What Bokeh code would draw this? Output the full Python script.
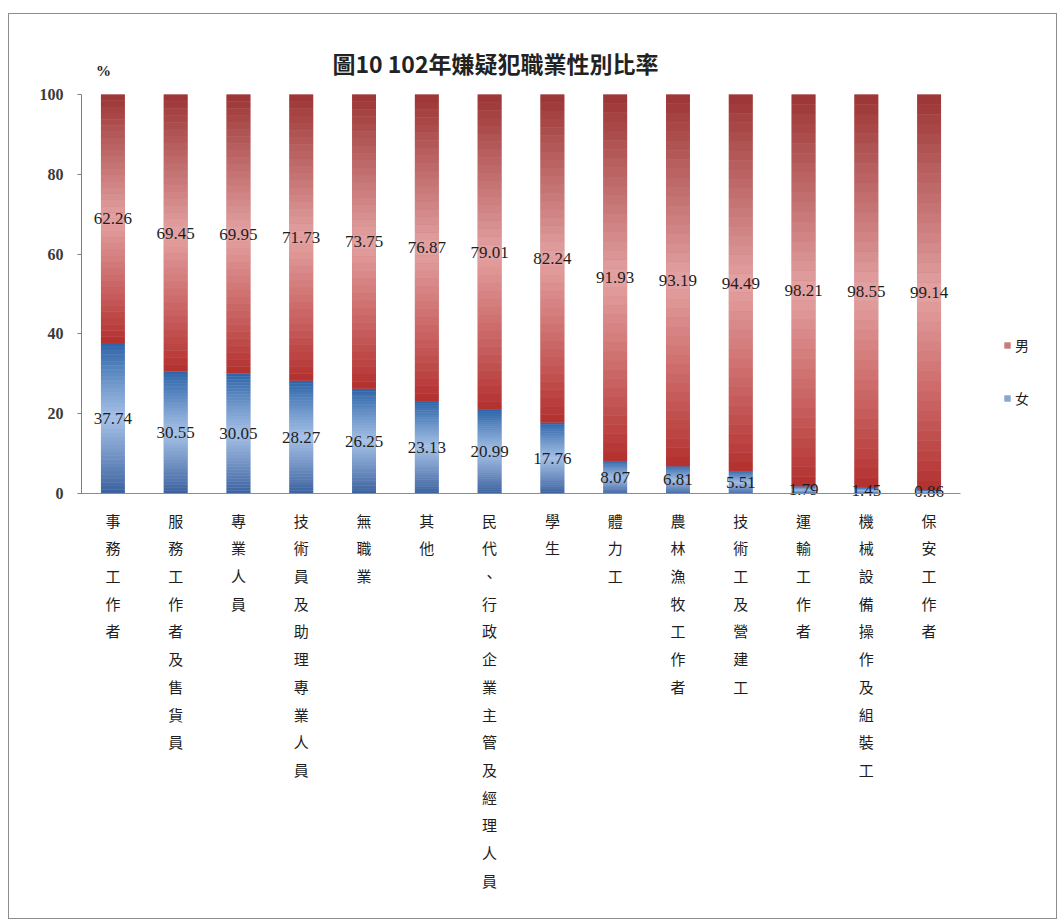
import numpy as np
from bokeh.plotting import figure
from bokeh.models import ColumnDataSource, Label, Legend, LegendItem, FactorRange, Range1d, FixedTicker
from bokeh.core.properties import value
from bokeh.embed import file_html
from bokeh.resources import INLINE

# ---- data ----
categories = ["事務工作者", "服務工作者及售貨員", "專業人員", "技術員及助理專業人員", "無職業",
              "其他", "民代、行政企業主管及經理人員", "學生", "體力工", "農林漁牧工作者",
              "技術工及營建工", "運輸工作者", "機械設備操作及組裝工", "保安工作者"]
female = [37.74, 30.55, 30.05, 28.27, 26.25, 23.13, 20.99, 17.76, 8.07, 6.81, 5.51, 1.79, 1.45, 0.86]
male = [62.26, 69.45, 69.95, 71.73, 73.75, 76.87, 79.01, 82.24, 91.93, 93.19, 94.49, 98.21, 98.55, 99.14]
y_ticks = [0, 20, 40, 60, 80, 100]
title_text = "圖10 102年嫌疑犯職業性別比率"
unit_text = "%"
male_name = "男"
female_name = "女"

# ---- styles / geometry ----
CJK = "Noto Sans CJK TC"
NUM = "Liberation Serif"
BAR_W = 0.38
N_SLICES = 40
RED = ("#b3302e", "#e4a3a3", "#9c3434")   # bottom, middle, top
BLUE = ("#3b629e", "#a8c3e8", "#2c64a8")
PX_PER_UNIT = 3.99                # vertical pixels per percentage point
Y_HI = 100 + 74 / PX_PER_UNIT     # room above 100 for the title
Y_LO = -(422 / PX_PER_UNIT)       # room below 0 for the category labels
SIDE_PAD = 1.1467                 # factor-units of padding on each side


def hex2rgb(h):
    h = h.lstrip("#")
    return [int(h[i:i + 2], 16) for i in (0, 2, 4)]


def lerp(c1, c2, t):
    a, b = hex2rgb(c1), hex2rgb(c2)
    return "#%02x%02x%02x" % tuple(int(round(a[i] + (b[i] - a[i]) * t)) for i in range(3))


def grad(stops, t, tmid=0.5):
    bot, mid, top = stops
    if t < tmid:
        return lerp(bot, mid, t / tmid)
    return lerp(mid, top, (t - tmid) / (1 - tmid))


p = figure(x_range=FactorRange(factors=categories, range_padding=SIDE_PAD, range_padding_units="absolute"),
           y_range=Range1d(Y_LO, Y_HI),
           width=1049, height=906, output_backend="svg", toolbar_location=None,
           min_border_left=0, min_border_right=26, min_border_top=6, min_border_bottom=5)
p.styles = {"border": "1px solid #8c8c8c", "margin-left": "8px", "margin-top": "13px"}
p.outline_line_color = None
p.xgrid.visible = False
p.ygrid.visible = False
p.background_fill_color = "white"

# base stacked bars (solid) -- used for the legend
src = ColumnDataSource(dict(cat=categories, female=female, male=male))
rends = p.vbar_stack(["female", "male"], x="cat", width=BAR_W, source=src,
                     color=["#8aa5d3", "#c87b7b"], line_color=None)

# gradient overlay built from the same values
xs, bots, tops, cols = [], [], [], []
for c, f, m in zip(categories, female, male):
    for (b0, length, stops) in ((0.0, f, BLUE), (f, m, RED)):
        for k in range(N_SLICES):
            t = (k + 0.5) / N_SLICES
            xs.append(c)
            bots.append(b0 + length * k / N_SLICES)
            tops.append(min(b0 + length * (k + 1) / N_SLICES + 0.02, 100))
            cols.append(grad(stops, t))
gsrc = ColumnDataSource(dict(x=xs, bottom=bots, top=tops, color=cols))
p.vbar(x="x", bottom="bottom", top="top", width=BAR_W, fill_color="color", line_color=None, source=gsrc)

# value labels
lab = ColumnDataSource(dict(
    x=categories + categories,
    y=[f / 2 for f in female] + [f + m / 2 for f, m in zip(female, male)],
    t=["%.2f" % v for v in female] + ["%.2f" % v for v in male]))
p.text(x="x", y="y", text="t", source=lab, text_font=value(NUM), text_font_size=value("17px"),
       text_color="#1e1e1e", text_align="center", text_baseline="middle")

# vertical (stacked-character) category labels below the axis
cat_src = ColumnDataSource(dict(x=categories, y=[0] * len(categories),
                                t=["\n".join(c) for c in categories]))
p.text(x="x", y="y", text="t", source=cat_src, y_offset=16, text_font=value(CJK),
       text_font_size=value("15px"), text_color="#1e1e1e", text_align="center",
       text_baseline="top", text_line_height=1.32)

# axes (drawn at fixed data locations inside the frame)
p.yaxis.fixed_location = 0
p.yaxis.ticker = FixedTicker(ticks=y_ticks)
p.yaxis.bounds = (0, 100)
p.yaxis.axis_line_color = "#7f7f7f"
p.yaxis.major_tick_line_color = "#7f7f7f"
p.yaxis.major_tick_in = 0
p.yaxis.major_tick_out = 4
p.yaxis.minor_tick_line_color = None
p.yaxis.major_label_standoff = 14
p.yaxis.major_label_text_font = NUM
p.yaxis.major_label_text_font_size = "16px"
p.yaxis.major_label_text_font_style = "bold"
p.yaxis.major_label_text_color = "#3a3a3a"

p.xaxis.fixed_location = 0
p.xaxis.bounds = (0, len(categories))
p.xaxis.ticker = FixedTicker(ticks=[], minor_ticks=list(range(len(categories) + 1)))
p.xaxis.axis_line_color = "#8c8c8c"
p.xaxis.major_tick_line_color = None
p.xaxis.minor_tick_line_color = "#8c8c8c"
p.xaxis.minor_tick_in = 0
p.xaxis.minor_tick_out = 3

# title and unit
p.add_layout(Label(x=6.593, y=100, y_offset=32, text=title_text, text_align="center",
                   text_baseline="middle", text_font=CJK, text_font_size="23px",
                   text_font_style="bold", text_color="#222222"))
p.add_layout(Label(x=0.35, y=100, y_offset=24, text=unit_text, text_align="center",
                   text_baseline="middle", text_font=NUM, text_font_size="15px",
                   text_font_style="bold", text_color="#222222"))

# legend (inside the extended frame, right of the bars)
legend = Legend(items=[LegendItem(label=male_name, renderers=[rends[1]]),
                       LegendItem(label=female_name, renderers=[rends[0]])],
                location=(994, 507), padding=0, margin=0, spacing=33,
                glyph_width=8, glyph_height=8, label_height=16, label_standoff=4,
                label_text_font=CJK, label_text_font_size="14px", label_text_color="#1e1e1e",
                border_line_color=None, background_fill_alpha=0)
p.add_layout(legend)

open("out.html", "w").write(file_html(p, INLINE))
